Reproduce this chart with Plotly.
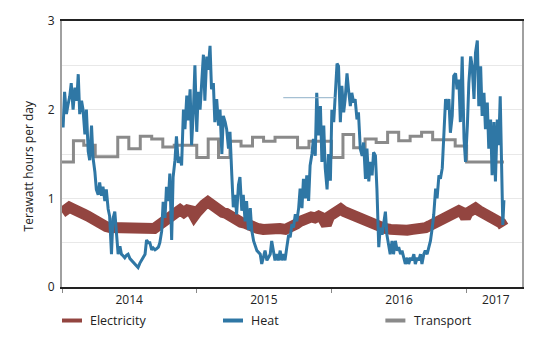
import pandas as pd
import plotly.graph_objects as go

# ---------------- data ----------------
start = pd.Timestamp("2014-01-01")

# Heat: day offset from 2014-01-01, TWh/day
heat_day = [0, 3, 7, 12, 16, 21, 25, 30, 35, 40, 44, 48, 53, 57, 62, 66, 71, 75, 80, 84,
            89, 93, 98, 102, 107, 111, 116, 120, 125, 129, 134, 138, 143, 148, 152, 157, 161, 166, 170, 175,
            179, 184, 188, 193, 197, 202, 206, 211, 215, 220, 225, 229, 234, 238, 243, 247, 252, 256, 261, 265,
            270, 274, 279, 283, 288, 292, 297, 301, 306, 310, 315, 320, 324, 329, 333, 338, 342,
            347, 351, 356, 360, 365, 369, 374, 378, 383, 387, 392, 396, 401, 405, 410, 414, 419, 424, 428,
            433, 437, 442, 446, 451, 455, 460, 464, 469, 473, 478, 482, 487, 491, 496, 500, 505, 510, 514,
            519, 528, 537, 541, 546, 550, 555, 564, 568, 573, 577, 582, 586, 591, 595, 600, 604, 609, 614,
            618, 623, 627, 632, 636, 641, 645, 650, 654, 659, 663, 668, 672, 677, 681, 686, 690, 695, 700,
            704, 709,
            713, 718, 722, 727, 731, 736, 740, 745, 749, 754, 758, 763, 767, 772, 776, 781, 785, 790, 794,
            799, 803, 808, 813, 817, 822, 826, 831, 835, 840, 844, 849, 853, 858, 862, 867, 871, 876, 880,
            885, 889, 894, 898, 903, 908, 912, 917, 921, 930, 935, 939, 944, 948, 953, 957, 962, 966, 971,
            975, 980, 984, 989, 994, 998, 1003, 1007, 1012, 1016, 1021, 1025, 1030, 1034, 1039, 1043, 1048,
            1052, 1057, 1061, 1066, 1070, 1075, 1079, 1084, 1089, 1093, 1098, 1102, 1107, 1111, 1116, 1120,
            1125, 1129, 1134, 1138, 1143, 1147, 1152, 1156, 1161, 1165, 1170, 1174, 1179, 1183, 1187, 1191,
            1194, 1197]
heat_val = [1.90, 1.80, 2.20, 1.95, 2.05, 2.15, 2.30, 2.00, 2.25, 2.10, 2.40, 1.95, 2.10, 2.00, 1.72, 2.00, 1.53, 1.43, 1.82, 1.46,
            1.30, 1.10, 1.04, 1.18, 1.03, 1.13, 0.97, 1.10, 0.88, 0.80, 0.37, 0.77, 0.85, 0.60, 0.37, 0.46, 0.37, 0.35, 0.33, 0.36,
            0.37, 0.32, 0.30, 0.28, 0.26, 0.24, 0.22, 0.27, 0.30, 0.33, 0.37, 0.53, 0.50, 0.50, 0.42, 0.44, 0.42, 0.43, 0.45, 0.50,
            0.63, 0.96, 0.78, 1.13, 0.97, 1.28, 0.53, 1.24, 1.43, 1.70, 1.40, 1.47, 1.37, 2.00, 1.78, 2.16, 1.88,
            2.23, 1.60, 2.00, 2.50, 1.75, 2.20, 2.00, 2.35, 2.62, 2.10, 2.60, 2.45, 2.72, 2.23, 2.30, 1.86, 2.12, 1.82, 2.00,
            1.50, 1.93, 1.86, 1.78, 1.56, 1.75, 1.26, 0.90, 1.04, 0.82, 1.15, 1.24, 0.86, 1.04, 0.74, 0.97, 0.64, 0.89, 0.64,
            0.52, 0.41, 0.37, 0.26, 0.33, 0.41, 0.30, 0.37, 0.52, 0.37, 0.30, 0.37, 0.30, 0.41, 0.30, 0.37, 0.30, 0.45, 0.59,
            0.56, 0.71, 0.67, 0.82, 0.74, 0.89, 1.11, 0.89, 1.22, 1.00, 1.26, 0.97, 1.37, 1.50, 1.67, 1.48, 2.19, 1.71, 2.04,
            1.41, 1.82,
            1.34, 1.10, 1.50, 1.20, 2.00, 1.86, 2.20, 2.52, 2.49, 1.86, 2.27, 1.97, 2.12, 2.41, 2.23, 2.04, 2.19, 2.08, 2.12,
            1.89, 1.97, 1.56, 1.48, 1.63, 1.22, 1.56, 1.19, 1.41, 1.26, 1.52, 1.48, 1.11, 0.45, 0.67, 0.59, 0.74, 0.85, 0.59,
            0.45, 0.37, 0.52, 0.37, 0.52, 0.41, 0.45, 0.37, 0.41, 0.26, 0.33, 0.26, 0.33, 0.30, 0.37, 0.26, 0.33, 0.30, 0.37,
            0.26, 0.37, 0.41, 0.37, 0.45, 0.52, 0.67, 0.82, 1.11, 1.00, 1.26, 1.22, 1.34, 1.74, 2.12, 2.00, 2.12,
            1.74, 1.93, 2.38, 2.41, 2.23, 2.34, 1.86, 2.60, 1.67, 1.41, 1.82, 2.30, 2.60, 2.49, 2.12, 2.64,
            2.78, 2.04, 2.49, 1.93, 2.19, 1.78, 2.08, 1.56, 1.89, 1.26, 1.86, 1.19, 1.89, 1.60, 2.15, 1.00,
            0.70, 0.98]

# Electricity: day offset from 2014-01-01, TWh/day
elec_day = [0, 10, 20, 30, 40, 50, 60, 70, 80, 90, 100, 110, 120, 130, 140, 150, 160, 175, 190, 205,
            220, 235, 250, 260, 270, 280, 290, 300, 310, 320, 330, 340, 350, 358, 365, 375, 385, 395, 405, 415,
            425, 435, 445, 455, 465, 475, 485, 495, 505, 515, 530, 545, 560, 575, 590, 605, 615, 625, 635, 645,
            655, 665, 675, 685, 695, 705, 716, 725, 735, 745, 755, 765, 775, 785, 795, 805, 815, 825, 835, 845,
            855, 865, 875, 890, 905, 920, 935, 950, 965, 975, 985, 995, 1005, 1015, 1025, 1035, 1045, 1055, 1065, 1075,
            1085, 1093, 1100, 1110, 1120, 1130, 1140, 1150, 1160, 1170, 1180, 1190, 1196]
elec_val = [0.84, 0.86, 0.90, 0.88, 0.87, 0.84, 0.82, 0.80, 0.77, 0.74, 0.72, 0.70, 0.68, 0.67, 0.67, 0.66, 0.66, 0.67, 0.65, 0.66,
            0.66, 0.65, 0.66, 0.69, 0.72, 0.76, 0.79, 0.82, 0.85, 0.87, 0.84, 0.87, 0.86, 0.80, 0.84, 0.90, 0.93, 0.96, 0.92, 0.90,
            0.86, 0.84, 0.83, 0.80, 0.77, 0.75, 0.73, 0.72, 0.70, 0.67, 0.66, 0.65, 0.66, 0.65, 0.66, 0.65, 0.66, 0.68, 0.71, 0.74,
            0.76, 0.78, 0.79, 0.78, 0.80, 0.78, 0.70, 0.80, 0.82, 0.87, 0.88, 0.85, 0.83, 0.82, 0.81, 0.80, 0.77, 0.74, 0.72, 0.71,
            0.70, 0.68, 0.66, 0.65, 0.64, 0.65, 0.64, 0.65, 0.65, 0.66, 0.67, 0.69, 0.71, 0.73, 0.75, 0.77, 0.80, 0.82, 0.84, 0.86,
            0.84, 0.78, 0.84, 0.86, 0.89, 0.86, 0.84, 0.82, 0.80, 0.79, 0.77, 0.72, 0.68]

# Transport: monthly values Jan 2014 .. Mar 2017
transport_val = [1.41, 1.65, 1.60, 1.47, 1.47, 1.69, 1.56, 1.70, 1.67, 1.58, 1.60, 1.60,
                 1.46, 1.67, 1.46, 1.645, 1.59, 1.69, 1.645, 1.69, 1.69, 1.57, 1.645, 1.645,
                 1.46, 1.72, 1.57, 1.67, 1.63, 1.745, 1.65, 1.70, 1.745, 1.66, 1.66, 1.59,
                 1.41, 1.41, 1.41]
transport_end = "2017-04-12"

year_labels = ["2014", "2015", "2016", "2017"]

# ---------------- build ----------------
heat_x = start + pd.to_timedelta(heat_day, unit="D")
elec_x = start + pd.to_timedelta(elec_day, unit="D")
tr_x = list(pd.date_range("2014-01-01", periods=len(transport_val), freq="MS")) + [pd.Timestamp(transport_end)]
tr_y = transport_val + [transport_val[-1]]

C_ELEC = "#934540"
C_HEAT = "#2f77a5"
C_TR = "#8a8a8a"
FONT = "Open Sans"

fig = go.Figure()
fig.add_trace(go.Scatter(x=elec_x, y=elec_val, mode="lines", name="Electricity",
                         line=dict(color=C_ELEC, width=11)))
fig.add_trace(go.Scatter(x=tr_x, y=tr_y, mode="lines", name="Transport",
                         line=dict(color=C_TR, width=3, shape="hv")))
fig.add_trace(go.Scatter(x=heat_x, y=heat_val, mode="lines", name="Heat",
                         line=dict(color=C_HEAT, width=3)))

fig.update_layout(
    width=555, height=337,
    margin=dict(l=62, r=33, t=17, b=50),
    paper_bgcolor="white", plot_bgcolor="white",
    showlegend=False,
    font=dict(family=FONT, size=12, color="#222"),
)

fig.update_xaxes(
    range=["2014-01-01", "2017-05-31"],
    tickmode="array",
    tickvals=["2014-07-02", "2015-07-02", "2016-07-02", "2017-03-21"],
    ticktext=year_labels,
    ticks="outside", ticklen=1, tickcolor="rgba(0,0,0,0)",
    showgrid=False, zeroline=False,
    showline=True, linecolor="#222", linewidth=1.5, mirror=True,
    minor=dict(tickmode="array",
               tickvals=["2014-01-01", "2015-01-01", "2016-01-01", "2017-01-01"],
               ticks="outside", ticklen=4, tickcolor="#888", tickwidth=1, showgrid=False),
    tickfont=dict(size=12, color="#222"),
)
fig.update_yaxes(
    range=[0, 3],
    tickmode="linear", tick0=0, dtick=1,
    ticks="outside", ticklen=3, tickcolor="rgba(0,0,0,0)",
    showgrid=True, gridcolor="#e8e8e8", gridwidth=1,
    minor=dict(dtick=0.5, showgrid=True, gridcolor="#e8e8e8", gridwidth=1),
    zeroline=False,
    showline=True, linecolor="#a0a0a0", linewidth=2, mirror=True,
    tickfont=dict(size=12, color="#222"),
)

# y-axis title
fig.add_annotation(text="Terawatt hours per day", xref="paper", yref="paper",
                   x=-0.074, y=0.457, textangle=-90, showarrow=False,
                   xanchor="center", yanchor="middle", font=dict(size=12, color="#222"))

# stray thin line present in the original
fig.add_shape(type="line", xref="paper", yref="paper", x0=0.481, x1=0.594, y0=0.7116, y1=0.7116,
              line=dict(color="#8fb0c8", width=1))

# manual legend
legend_items = [("Electricity", C_ELEC, 0.0, 0.0566),
                ("Heat", C_HEAT, 0.350, 0.407),
                ("Transport", C_TR, 0.703, 0.761)]
for name, col, x0, xt in legend_items:
    fig.add_shape(type="line", xref="paper", yref="paper", x0=x0, x1=x0 + 0.0435,
                  y0=-0.126, y1=-0.126, line=dict(color=col, width=4))
    fig.add_annotation(text=name, xref="paper", yref="paper", x=xt, y=-0.126,
                       xanchor="left", yanchor="middle", showarrow=False,
                       font=dict(size=12.5, color="#222"))

fig.write_html("out.html")
